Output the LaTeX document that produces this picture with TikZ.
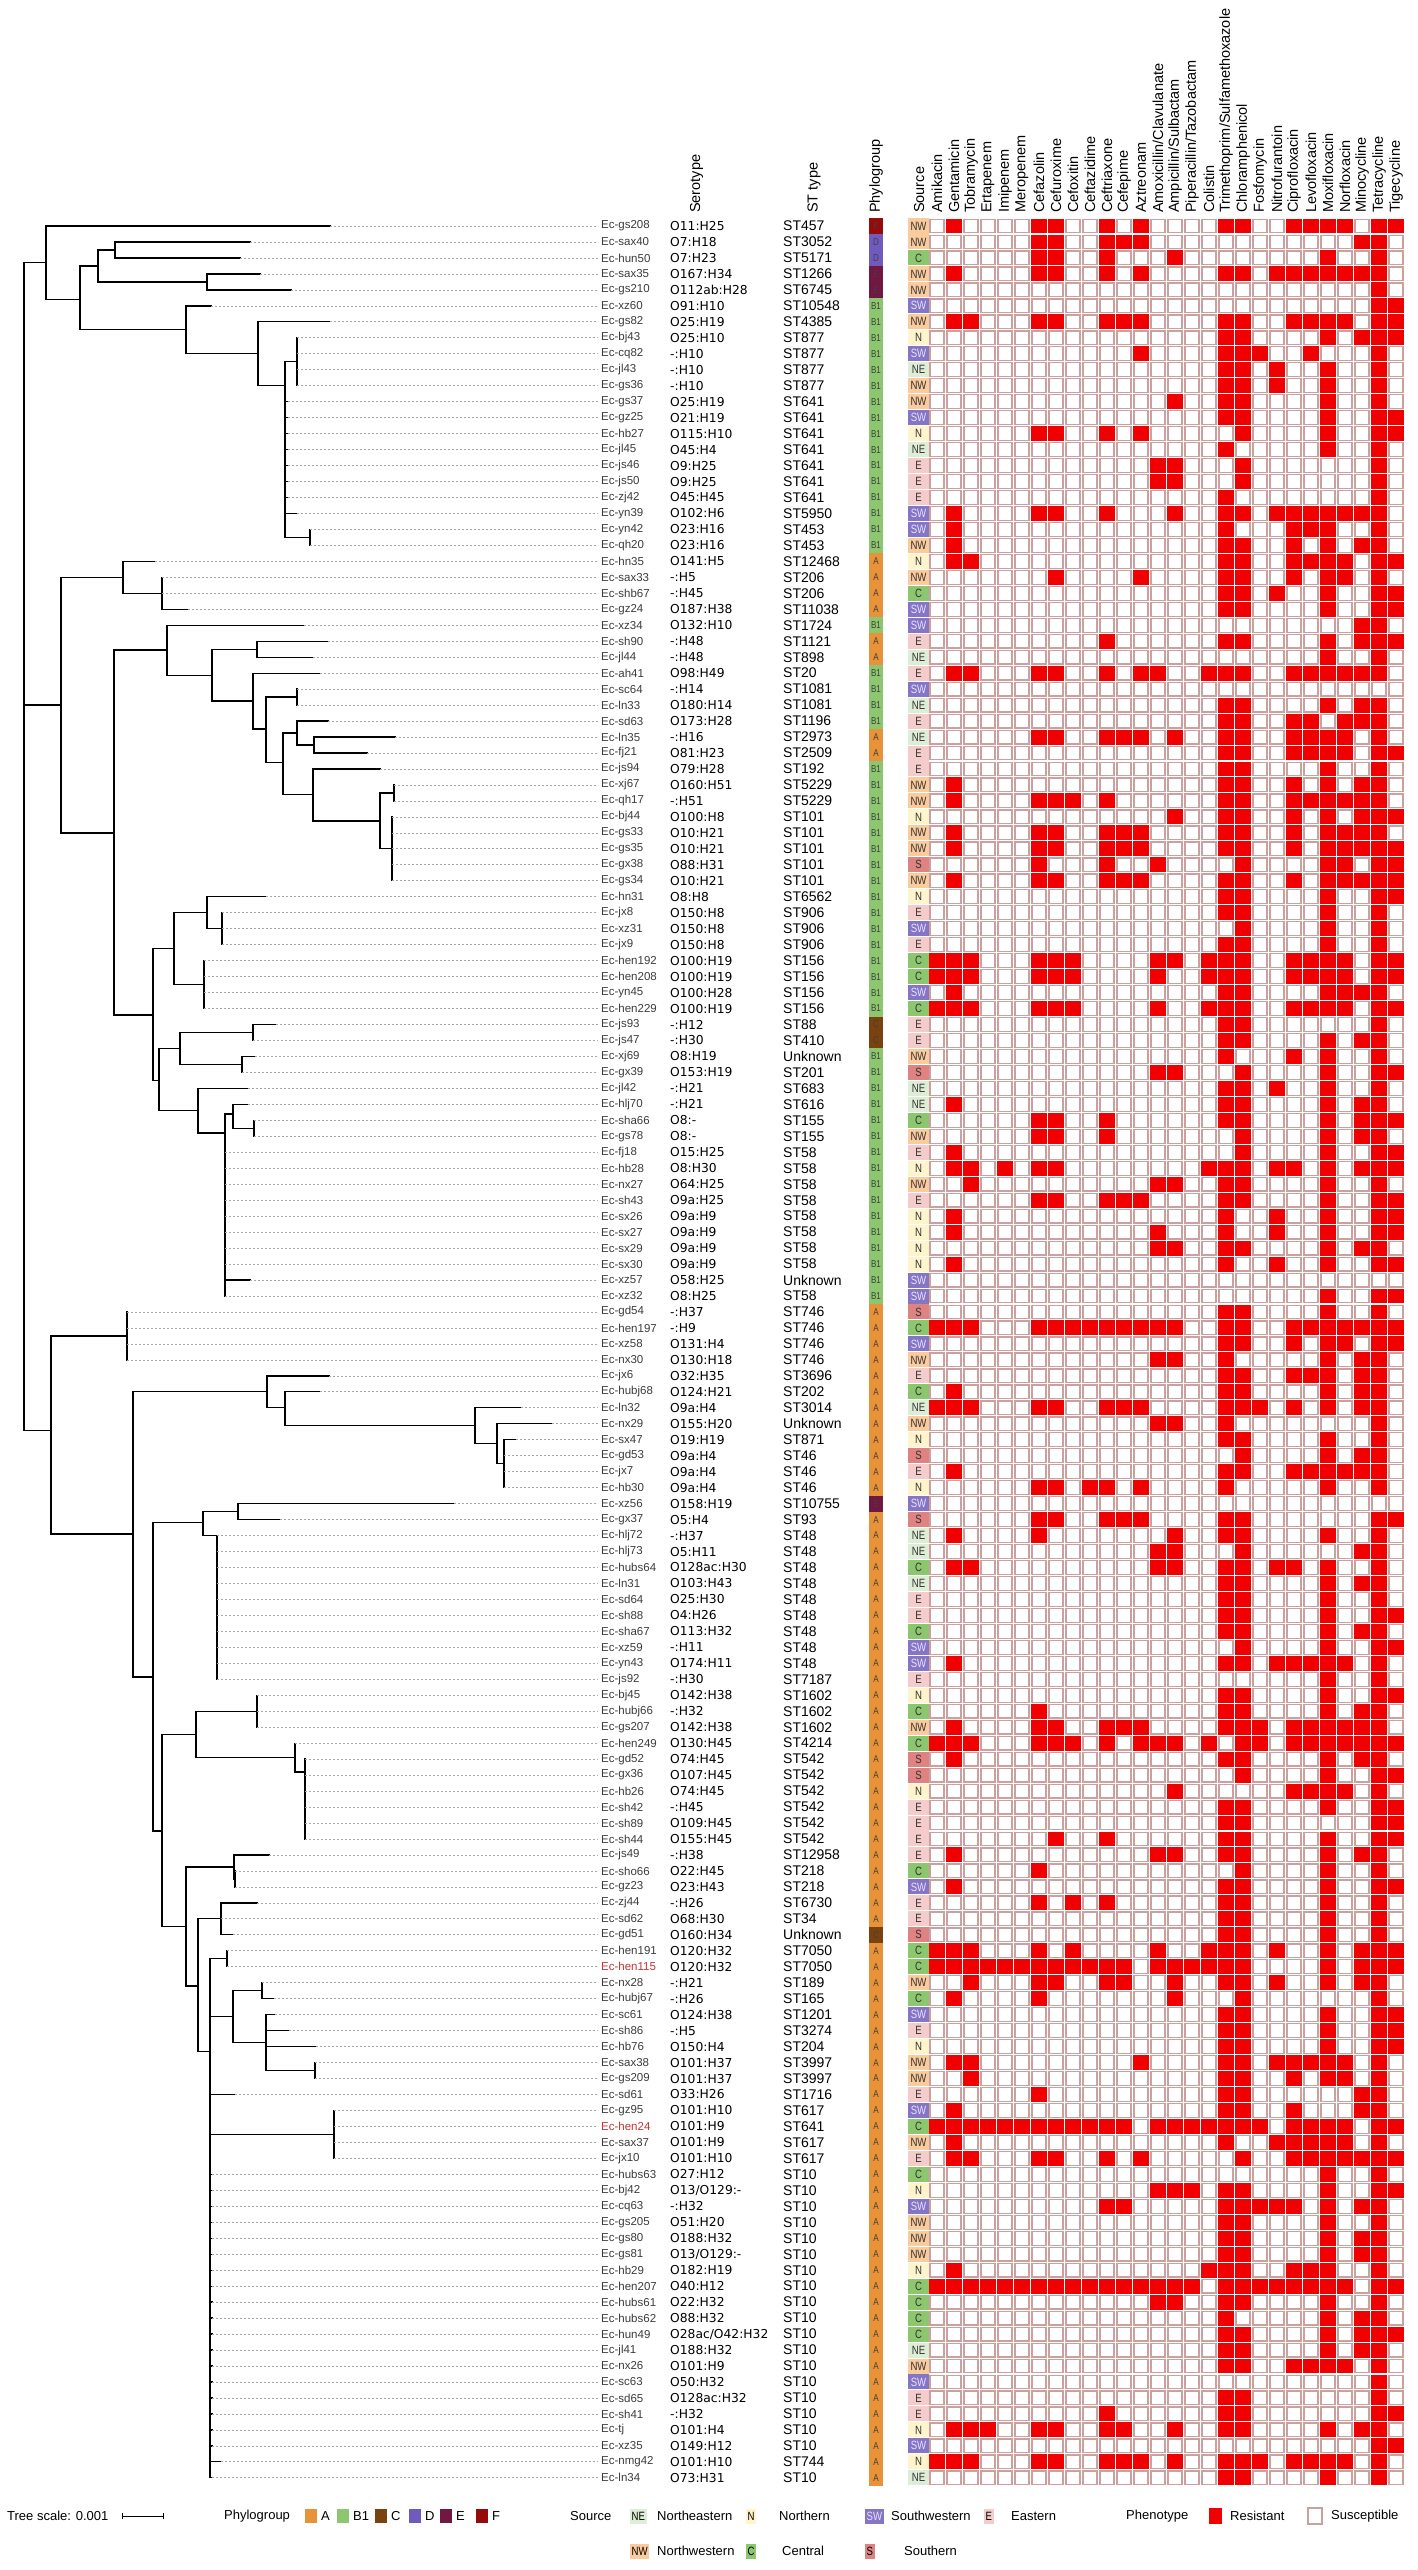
\documentclass[tikz,border=0pt]{standalone}
\usepackage{fontspec}
\setmainfont{Liberation Sans}
\newfontfamily\dejavu{DejaVu Sans}
\newfontfamily\narrowf[FakeStretch=0.8]{Liberation Sans}
\definecolor{pgA}{RGB}{232,146,58}
\definecolor{pgB1}{RGB}{140,198,110}
\definecolor{pgC}{RGB}{122,66,14}
\definecolor{pgD}{RGB}{112,90,190}
\definecolor{pgE}{RGB}{112,24,66}
\definecolor{pgF}{RGB}{150,10,10}
\definecolor{srcNE}{RGB}{222,238,214}
\definecolor{srcN}{RGB}{255,244,204}
\definecolor{srcSW}{RGB}{134,116,196}
\definecolor{srcE}{RGB}{244,204,204}
\definecolor{srcNW}{RGB}{250,203,156}
\definecolor{srcC}{RGB}{140,198,110}
\definecolor{srcS}{RGB}{222,130,130}
\definecolor{resred}{RGB}{240,0,0}
\definecolor{susedge}{RGB}{205,160,160}
\definecolor{leafgray}{RGB}{60,60,60}
\definecolor{hired}{RGB}{200,50,50}
\tikzset{
 tree/.style={line width=1.3pt, line cap=rect, draw=black},
 leader/.style={draw=black!35, line width=0.7pt, dash pattern=on 2pt off 2pt},
 leaflab/.style={anchor=west, inner sep=0pt, text=leafgray, font=\fontsize{11.5}{13}\selectfont},
 serolab/.style={anchor=west, inner sep=0pt, font=\dejavu\fontsize{12.3}{14}\selectfont},
 stlab/.style={anchor=west, inner sep=0pt, font=\fontsize{14}{16}\selectfont},
 pgtxt/.style={inner sep=0pt, text=black!75, font=\narrowf\fontsize{10}{11}\selectfont},
 srctxt/.style={inner sep=0pt, text=black!80, font=\narrowf\fontsize{12}{13}\selectfont},
 txtNE/.style={}, txtN/.style={}, txtE/.style={}, txtNW/.style={}, txtC/.style={}, txtS/.style={},
 txtSW/.style={text=white!90!blue},
 suscell/.style={fill=white, draw=susedge, line width=1.2pt},
 rescell/.style={fill=resred, draw=resred, line width=1.2pt},
 hdr/.style={rotate=90, anchor=west, inner sep=0pt, font=\fontsize{14.5}{16}\selectfont},
 lgd/.style={anchor=west, inner sep=0pt, font=\fontsize{13}{15}\selectfont},
 lgsw/.style={inner sep=1.5pt, minimum height=15pt, font=\narrowf\fontsize{12}{13}\selectfont, anchor=west},
}
% row, parent x, tip x, name, serotype, ST, phylogroup, source, resistant columns
\newcommand\leafrow[9]{%
  \coordinate (p#1) at (#2,#1);
  \coordinate (t#1) at (#3,#1);
  \draw[tree] (p#1) -- (t#1);
  \node[leaflab] (n#1) at (601,#1) {#4};
  \draw[leader] (t#1) -- ([xshift=-3pt]n#1.west);
  \node[serolab] (s#1) at (670,#1) {#5};
  \node[stlab] (st#1) at (783,#1) {#6};
  \fill[pg#7] (869,{#1-0.5}) rectangle (883,{#1+0.5});
  \node[pgtxt] (g#1) at (876,#1) {#7};
  \fill[src#8] (908,{#1-0.47}) rectangle (929,{#1+0.47});
  \node[srctxt,txt#8] (o#1) at (918.5,#1) {#8};
  \foreach \c in {1,...,28}{\draw[suscell] ({930+(\c-1)*17},{#1-0.43}) rectangle ({944+(\c-1)*17},{#1+0.43});}
  \foreach \c in {#9}{\draw[rescell] ({930+(\c-1)*17},{#1-0.43}) rectangle ({944+(\c-1)*17},{#1+0.43});}
}
\newcommand\trV[3]{\draw[tree] (#1,#2) -- (#1,#3);}
\newcommand\trH[3]{\draw[tree] (#1,#3) -- (#2,#3);}
\begin{document}
\begin{tikzpicture}[x=1pt,y=1pt]
\useasboundingbox (0,0) rectangle (1418,-2570);
\fill[white] (0,0) rectangle (1418,-2570);
% headers
\node[hdr] (hsero) at (696.5,-213) {Serotype};
\node[hdr] (hst) at (814,-213) {ST type};
\node[hdr] (hpg) at (876,-213) {Phylogroup};
\node[hdr] (hsrc) at (919,-213) {Source};
\foreach \t [count=\k] in {Amikacin,Gentamicin,Tobramycin,Ertapenem,Imipenem,Meropenem,Cefazolin,Cefuroxime,Cefoxitin,Ceftazidime,Ceftriaxone,Cefepime,Aztreonam,Amoxicillin/Clavulanate,Ampicillin/Sulbactam,Piperacillin/Tazobactam,Colistin,Trimethoprim/Sulfamethoxazole,Chloramphenicol,Fosfomycin,Nitrofurantoin,Ciprofloxacin,Levofloxacin,Moxifloxacin,Norfloxacin,Minocycline,Tetracycline,Tigecycline}
  {\node[hdr] (h\k) at ({937+(\k-1)*17},-213) {\t};}
\begin{scope}[y=-15.97pt, yshift=-210.03pt]
% ---- tree internal branches
\trV{24}{3.3}{76.4}
\trH{24}{46}{3.3}\trV{46}{1}{5.6}
\trH{46}{80}{5.6}\trV{80}{3.5}{7.5}
\trH{80}{98}{3.5}\trV{98}{2.5}{4.5}
\trH{98}{115}{2.5}\trV{115}{2}{3}
\trH{98}{207}{4.5}\trV{207}{4}{5}
\trH{80}{186}{7.5}\trV{186}{6}{9}
\trH{186}{258}{9}\trV{258}{7}{11}
\trH{258}{285}{11}\trV{285}{9.5}{20.5}
\trH{285}{297}{9.5}\trV{297}{8}{11}
\trH{285}{310}{20.5}\trV{310}{20}{21}
% middle clade
\trH{24}{61}{31}\trV{61}{23}{39}
\trH{61}{123}{23}\trV{123}{22}{24}
\trH{123}{162}{24}\trV{162}{23}{25}
\trH{61}{114}{39}\trV{114}{27.55}{50.4}
\trH{114}{167}{27.55}\trV{167}{26}{29.15}
\trH{167}{212}{29.15}\trV{212}{27.5}{30.75}
\trH{212}{257}{27.5}\trV{257}{27}{28}
\trH{212}{253}{30.75}\trV{253}{29}{32.5}
\trH{253}{266}{32.5}\trV{266}{30.5}{34.6}
\trH{266}{297}{30.5}\trV{297}{30}{31}
\trH{266}{283}{34.6}\trV{283}{32.75}{36.6}
\trH{283}{297}{32.75}\trV{297}{32}{33.5}
\trH{297}{314}{33.5}\trV{314}{33}{34}
\trH{283}{313}{36.6}\trV{313}{35}{38.25}
\trH{313}{380}{38.25}\trV{380}{36.5}{40}
\trH{380}{394}{36.5}\trV{394}{36}{37}
\trH{380}{392}{40}\trV{392}{38}{42}
\trH{114}{153}{50.4}\trV{153}{46.25}{54.5}
\trH{153}{174}{46.25}\trV{174}{44}{48.5}
\trH{174}{207}{44}\trV{207}{43}{45}
\trH{207}{222}{45}\trV{222}{44}{46}
\trH{174}{204}{48.5}\trV{204}{47}{50}
\trH{153}{159}{54.5}\trV{159}{52.5}{56.4}
\trH{159}{180}{52.5}\trV{180}{51.5}{53.5}
\trH{180}{253}{51.5}\trV{253}{51}{52}
\trH{180}{242}{53.5}\trV{242}{53}{54}
\trH{159}{198}{56.4}\trV{198}{55}{57.8}
\trH{198}{225}{57.8}\trV{225}{56.6}{68}
\trH{225}{233}{56.6}\trV{233}{56}{57.5}
\trH{233}{254}{57.5}\trV{254}{57}{58}
% lower clade
\trH{24}{51}{76.4}\trV{51}{70.5}{82.9}
\trH{51}{127}{70.5}\trV{127}{69}{72}
\trH{51}{133}{82.9}\trV{133}{74}{91.85}
\trH{133}{267}{74}\trV{267}{73}{75}
\trH{267}{285}{75}\trV{285}{74}{76.1}
\trH{285}{475}{76.1}\trV{475}{75}{77.25}
\trH{475}{497}{77.25}\trV{497}{76}{78.5}
\trH{497}{504}{78.5}\trV{504}{77}{80}
\trH{133}{153}{91.85}\trV{153}{82.2}{101.5}
\trH{153}{203}{82.2}\trV{203}{81.5}{83}
\trH{203}{238}{81.5}\trV{238}{81}{82}
\trH{203}{217}{83}\trV{217}{83}{92}
\trH{153}{162}{101.5}\trV{162}{95.45}{107.5}
\trH{162}{196}{95.45}\trV{196}{94}{96.9}
\trH{196}{257}{94}\trV{257}{93}{95}
\trH{196}{295}{96.9}\trV{295}{96}{97.8}
\trH{295}{305}{97.8}\trV{305}{97}{102}
\trH{162}{186}{107.5}\trV{186}{103.75}{111.2}
\trH{186}{234}{103.75}\trV{234}{103}{104.5}
\trH{234}{235}{104.5}\trV{235}{104}{105}
\trH{186}{198}{111.2}\trV{198}{107}{115.3}
\trH{198}{221}{107}\trV{221}{106}{108}
\trH{198}{210}{115.3}\trV{210}{109.5}{142}
\trH{210}{227}{109.5}\trV{227}{109}{110}
\trH{210}{233}{113.1}\trV{233}{111.5}{114.75}
\trH{233}{262}{111.5}\trV{262}{111}{112}
\trH{233}{266}{114.75}\trV{266}{113}{116.5}
\trH{266}{315}{116.5}\trV{315}{116}{117}
\trH{210}{334}{120.5}\trV{334}{119}{122}
% ---- leaves
\leafrow{1}{46}{330}{Ec-gs208}{O11:H25}{ST457}{F}{NW}{2,7,8,11,13,18,19,22,23,24,25,27,28}
\leafrow{2}{115}{250}{Ec-sax40}{O7:H18}{ST3052}{D}{NW}{7,8,11,12,13,26,27}
\leafrow{3}{115}{240}{Ec-hun50}{O7:H23}{ST5171}{D}{C}{7,8,11,15,24,27}
\leafrow{4}{207}{260}{Ec-sax35}{O167:H34}{ST1266}{E}{NW}{2,7,8,11,13,18,19,21,22,23,24,25,26,27}
\leafrow{5}{207}{291}{Ec-gs210}{O112ab:H28}{ST6745}{E}{NW}{27}
\leafrow{6}{186}{211}{Ec-xz60}{O91:H10}{ST10548}{B1}{SW}{27,28}
\leafrow{7}{258}{330}{Ec-gs82}{O25:H19}{ST4385}{B1}{NW}{2,3,7,8,11,12,13,18,19,22,23,24,25,27,28}
\leafrow{8}{297}{297}{Ec-bj43}{O25:H10}{ST877}{B1}{N}{18,19,24,26,27,28}
\leafrow{9}{297}{297}{Ec-cq82}{-:H10}{ST877}{B1}{SW}{13,18,19,20,23,27}
\leafrow{10}{297}{297}{Ec-jl43}{-:H10}{ST877}{B1}{NE}{18,19,21,24,27}
\leafrow{11}{297}{297}{Ec-gs36}{-:H10}{ST877}{B1}{NW}{18,19,21,24,27}
\leafrow{12}{285}{288}{Ec-gs37}{O25:H19}{ST641}{B1}{NW}{15,18,19,24,27}
\leafrow{13}{285}{288}{Ec-gz25}{O21:H19}{ST641}{B1}{SW}{18,19,24,27,28}
\leafrow{14}{285}{288}{Ec-hb27}{O115:H10}{ST641}{B1}{N}{7,8,11,13,19,24,27,28}
\leafrow{15}{285}{288}{Ec-jl45}{O45:H4}{ST641}{B1}{NE}{18,24,27}
\leafrow{16}{285}{288}{Ec-js46}{O9:H25}{ST641}{B1}{E}{14,15,19,27}
\leafrow{17}{285}{288}{Ec-js50}{O9:H25}{ST641}{B1}{E}{14,15,19,27}
\leafrow{18}{285}{288}{Ec-zj42}{O45:H45}{ST641}{B1}{E}{18,27}
\leafrow{19}{285}{297}{Ec-yn39}{O102:H6}{ST5950}{B1}{SW}{2,7,8,11,15,18,19,21,22,23,24,25,26,27}
\leafrow{20}{310}{310}{Ec-yn42}{O23:H16}{ST453}{B1}{SW}{2,18,22,23,24,27}
\leafrow{21}{310}{310}{Ec-qh20}{O23:H16}{ST453}{B1}{NW}{2,18,19,22,24,26,27}
\leafrow{22}{123}{155}{Ec-hn35}{O141:H5}{ST12468}{A}{N}{2,3,18,19,22,23,24,25,27,28}
\leafrow{23}{162}{162}{Ec-sax33}{-:H5}{ST206}{A}{NW}{8,13,18,19,22,24,25,27}
\leafrow{24}{162}{162}{Ec-shb67}{-:H45}{ST206}{A}{C}{18,19,21,24,27,28}
\leafrow{25}{162}{188}{Ec-gz24}{O187:H38}{ST11038}{A}{SW}{18,19,24,27,28}
\leafrow{26}{167}{304}{Ec-xz34}{O132:H10}{ST1724}{B1}{SW}{26,27}
\leafrow{27}{257}{328}{Ec-sh90}{-:H48}{ST1121}{A}{E}{11,18,19,24,26,27,28}
\leafrow{28}{257}{313}{Ec-jl44}{-:H48}{ST898}{A}{NE}{24,27}
\leafrow{29}{253}{320}{Ec-ah41}{O98:H49}{ST20}{B1}{E}{2,3,7,8,11,13,14,17,18,19,22,23,24,25,26,27}
\leafrow{30}{297}{297}{Ec-sc64}{-:H14}{ST1081}{B1}{SW}{}
\leafrow{31}{297}{297}{Ec-ln33}{O180:H14}{ST1081}{B1}{NE}{18,19,24,26,27}
\leafrow{32}{297}{328}{Ec-sd63}{O173:H28}{ST1196}{B1}{E}{18,19,22,23,25,26,27}
\leafrow{33}{314}{395}{Ec-ln35}{-:H16}{ST2973}{A}{NE}{7,8,11,12,13,15,18,19,22,23,24,25,27}
\leafrow{34}{314}{367}{Ec-fj21}{O81:H23}{ST2509}{A}{E}{18,19,22,23,24,25,27,28}
\leafrow{35}{313}{380}{Ec-js94}{O79:H28}{ST192}{B1}{E}{18,19,24,27}
\leafrow{36}{394}{394}{Ec-xj67}{O160:H51}{ST5229}{B1}{NW}{2,18,19,22,24,26,27}
\leafrow{37}{394}{394}{Ec-qh17}{-:H51}{ST5229}{B1}{NW}{2,7,8,9,11,18,19,22,23,24,25,26,27}
\leafrow{38}{392}{392}{Ec-bj44}{O100:H8}{ST101}{B1}{N}{15,18,19,22,24,26,27,28}
\leafrow{39}{392}{392}{Ec-gs33}{O10:H21}{ST101}{B1}{NW}{2,7,8,11,12,13,18,19,22,24,25,26,27}
\leafrow{40}{392}{392}{Ec-gs35}{O10:H21}{ST101}{B1}{NW}{2,7,8,11,12,13,18,19,22,24,25,26,27,28}
\leafrow{41}{392}{392}{Ec-gx38}{O88:H31}{ST101}{B1}{S}{7,11,14,19,24,25,27,28}
\leafrow{42}{392}{392}{Ec-gs34}{O10:H21}{ST101}{B1}{NW}{2,7,8,11,12,13,18,19,22,24,25,26,27,28}
\leafrow{43}{207}{266}{Ec-hn31}{O8:H8}{ST6562}{B1}{N}{18,19,24,27,28}
\leafrow{44}{222}{222}{Ec-jx8}{O150:H8}{ST906}{B1}{E}{18,19,24,27}
\leafrow{45}{222}{222}{Ec-xz31}{O150:H8}{ST906}{B1}{SW}{19,24,27}
\leafrow{46}{222}{222}{Ec-jx9}{O150:H8}{ST906}{B1}{E}{18,19,24,27}
\leafrow{47}{204}{204}{Ec-hen192}{O100:H19}{ST156}{B1}{C}{1,2,3,7,8,9,14,15,17,18,19,22,23,24,25,27,28}
\leafrow{48}{204}{204}{Ec-hen208}{O100:H19}{ST156}{B1}{C}{1,2,3,7,8,9,14,17,18,19,22,23,24,25,27,28}
\leafrow{49}{204}{204}{Ec-yn45}{O100:H28}{ST156}{B1}{SW}{2,18,19,24,25,26,27}
\leafrow{50}{204}{204}{Ec-hen229}{O100:H19}{ST156}{B1}{C}{1,2,3,7,8,9,14,17,18,19,22,23,24,25,27,28}
\leafrow{51}{253}{276}{Ec-js93}{-:H12}{ST88}{C}{E}{18,19,27}
\leafrow{52}{253}{253}{Ec-js47}{-:H30}{ST410}{C}{E}{18,19,24,26,27}
\leafrow{53}{242}{255}{Ec-xj69}{O8:H19}{Unknown}{B1}{NW}{18,22,24,27}
\leafrow{54}{242}{242}{Ec-gx39}{O153:H19}{ST201}{B1}{S}{14,15,19,24,27,28}
\leafrow{55}{198}{248}{Ec-jl42}{-:H21}{ST683}{B1}{NE}{18,19,21,24,27}
\leafrow{56}{233}{248}{Ec-hlj70}{-:H21}{ST616}{B1}{NE}{2,18,19,24,26,27}
\leafrow{57}{254}{254}{Ec-sha66}{O8:-}{ST155}{B1}{C}{7,8,11,18,19,24,26,27,28}
\leafrow{58}{254}{254}{Ec-gs78}{O8:-}{ST155}{B1}{NW}{7,8,11,19,24,26,27}
\leafrow{59}{225}{225}{Ec-fj18}{O15:H25}{ST58}{B1}{E}{2,19,24,27,28}
\leafrow{60}{225}{225}{Ec-hb28}{O8:H30}{ST58}{B1}{N}{2,3,5,7,8,17,18,19,21,22,24,26,27,28}
\leafrow{61}{225}{225}{Ec-nx27}{O64:H25}{ST58}{B1}{NW}{3,14,15,18,19,24,27}
\leafrow{62}{225}{225}{Ec-sh43}{O9a:H25}{ST58}{B1}{E}{7,8,11,12,13,18,19,24,27,28}
\leafrow{63}{225}{225}{Ec-sx26}{O9a:H9}{ST58}{B1}{N}{2,18,21,24,27,28}
\leafrow{64}{225}{225}{Ec-sx27}{O9a:H9}{ST58}{B1}{N}{2,14,18,21,24,27,28}
\leafrow{65}{225}{225}{Ec-sx29}{O9a:H9}{ST58}{B1}{N}{14,15,18,19,24,26,27}
\leafrow{66}{225}{225}{Ec-sx30}{O9a:H9}{ST58}{B1}{N}{2,18,21,24,27,28}
\leafrow{67}{225}{250}{Ec-xz57}{O58:H25}{Unknown}{B1}{SW}{}
\leafrow{68}{225}{225}{Ec-xz32}{O8:H25}{ST58}{B1}{SW}{24,27,28}
\leafrow{69}{127}{127}{Ec-gd54}{-:H37}{ST746}{A}{S}{18,19,24,27}
\leafrow{70}{127}{127}{Ec-hen197}{-:H9}{ST746}{A}{C}{1,2,3,7,8,9,10,11,12,13,14,15,18,19,22,23,24,25,26,27,28}
\leafrow{71}{127}{127}{Ec-xz58}{O131:H4}{ST746}{A}{SW}{18,19,22,24,25,27,28}
\leafrow{72}{127}{127}{Ec-nx30}{O130:H18}{ST746}{A}{NW}{14,15,18,24,26,27}
\leafrow{73}{267}{329}{Ec-jx6}{O32:H35}{ST3696}{A}{E}{18,19,22,23,24,26,27}
\leafrow{74}{285}{320}{Ec-hubj68}{O124:H21}{ST202}{A}{C}{2,18,19,24,26,27}
\leafrow{75}{475}{521}{Ec-ln32}{O9a:H4}{ST3014}{A}{NE}{1,2,3,7,8,11,12,13,18,19,20,22,24,26,27}
\leafrow{76}{497}{552}{Ec-nx29}{O155:H20}{Unknown}{A}{NW}{14,15,18,27}
\leafrow{77}{504}{516}{Ec-sx47}{O19:H19}{ST871}{A}{N}{18,19,24,27}
\leafrow{78}{504}{504}{Ec-gd53}{O9a:H4}{ST46}{A}{S}{19,24,26,27}
\leafrow{79}{504}{504}{Ec-jx7}{O9a:H4}{ST46}{A}{E}{2,18,19,22,23,24,25,26,27}
\leafrow{80}{504}{504}{Ec-hb30}{O9a:H4}{ST46}{A}{N}{7,8,10,11,13,18,24,27}
\leafrow{81}{238}{454}{Ec-xz56}{O158:H19}{ST10755}{E}{SW}{}
\leafrow{82}{238}{280}{Ec-gx37}{O5:H4}{ST93}{A}{S}{7,8,11,12,13,18,19,27,28}
\leafrow{83}{217}{217}{Ec-hlj72}{-:H37}{ST48}{A}{NE}{2,7,15,18,19,24,27}
\leafrow{84}{217}{217}{Ec-hlj73}{O5:H11}{ST48}{A}{NE}{14,15,19,26,27}
\leafrow{85}{217}{217}{Ec-hubs64}{O128ac:H30}{ST48}{A}{C}{2,3,14,15,18,19,21,22,24,27}
\leafrow{86}{217}{217}{Ec-ln31}{O103:H43}{ST48}{A}{NE}{18,19,24,26,27}
\leafrow{87}{217}{217}{Ec-sd64}{O25:H30}{ST48}{A}{E}{18,19,24,27}
\leafrow{88}{217}{217}{Ec-sh88}{O4:H26}{ST48}{A}{E}{18,19,24,27,28}
\leafrow{89}{217}{217}{Ec-sha67}{O113:H32}{ST48}{A}{C}{18,19,24,26,27}
\leafrow{90}{217}{217}{Ec-xz59}{-:H11}{ST48}{A}{SW}{19,24,27,28}
\leafrow{91}{217}{217}{Ec-yn43}{O174:H11}{ST48}{A}{SW}{2,18,19,21,22,23,24,25,27}
\leafrow{92}{217}{217}{Ec-js92}{-:H30}{ST7187}{A}{E}{24,27}
\leafrow{93}{257}{257}{Ec-bj45}{O142:H38}{ST1602}{A}{N}{18,19,24,27,28}
\leafrow{94}{257}{257}{Ec-hubj66}{-:H32}{ST1602}{A}{C}{7,18,19,24,26,27}
\leafrow{95}{257}{257}{Ec-gs207}{O142:H38}{ST1602}{A}{NW}{2,7,8,11,12,13,18,19,20,22,23,24,25,26,27}
\leafrow{96}{295}{295}{Ec-hen249}{O130:H45}{ST4214}{A}{C}{1,2,3,7,8,9,11,13,14,15,17,19,20,22,23,24,25,26,27,28}
\leafrow{97}{305}{305}{Ec-gd52}{O74:H45}{ST542}{A}{S}{2,18,19,24,26,27}
\leafrow{98}{305}{305}{Ec-gx36}{O107:H45}{ST542}{A}{S}{19,24,27,28}
\leafrow{99}{305}{305}{Ec-hb26}{O74:H45}{ST542}{A}{N}{15,22,23,24,25,27}
\leafrow{100}{305}{305}{Ec-sh42}{-:H45}{ST542}{A}{E}{18,19,24,27,28}
\leafrow{101}{305}{305}{Ec-sh89}{O109:H45}{ST542}{A}{E}{18,19,27,28}
\leafrow{102}{305}{305}{Ec-sh44}{O155:H45}{ST542}{A}{E}{8,11,18,19,24,27,28}
\leafrow{103}{234}{269}{Ec-js49}{-:H38}{ST12958}{A}{E}{2,14,15,18,19,24,26,27}
\leafrow{104}{235}{235}{Ec-sho66}{O22:H45}{ST218}{A}{C}{7,19,24,27}
\leafrow{105}{235}{235}{Ec-gz23}{O23:H43}{ST218}{A}{SW}{2,18,19,24,27,28}
\leafrow{106}{221}{257}{Ec-zj44}{-:H26}{ST6730}{A}{E}{7,9,11,18,19,24,27}
\leafrow{107}{221}{221}{Ec-sd62}{O68:H30}{ST34}{A}{E}{18,19,24,27}
\leafrow{108}{221}{233}{Ec-gd51}{O160:H34}{Unknown}{C}{S}{18,19,24,27}
\leafrow{109}{227}{227}{Ec-hen191}{O120:H32}{ST7050}{A}{C}{1,2,3,7,9,14,17,18,19,21,24,26,27,28}
\leafrow{110}{227}{227}{\color{hired}Ec-hen115}{O120:H32}{ST7050}{A}{C}{1,2,3,4,5,6,7,8,9,10,11,12,14,15,16,17,18,19,24,26,27,28}
\leafrow{111}{262}{262}{Ec-nx28}{-:H21}{ST189}{A}{NW}{3,7,8,11,12,15,18,19,21,24,26,27}
\leafrow{112}{262}{274}{Ec-hubj67}{-:H26}{ST165}{A}{C}{2,7,15,19,27}
\leafrow{113}{266}{275}{Ec-sc61}{O124:H38}{ST1201}{A}{SW}{18,19,24,27,28}
\leafrow{114}{266}{289}{Ec-sh86}{-:H5}{ST3274}{A}{E}{18,19,24,27,28}
\leafrow{115}{266}{316}{Ec-hb76}{O150:H4}{ST204}{A}{N}{18,19,24,27,28}
\leafrow{116}{315}{315}{Ec-sax38}{O101:H37}{ST3997}{A}{NW}{2,3,13,18,19,21,22,23,24,25,27}
\leafrow{117}{315}{315}{Ec-gs209}{O101:H37}{ST3997}{A}{NW}{3,18,19,22,24,25,27}
\leafrow{118}{210}{235}{Ec-sd61}{O33:H26}{ST1716}{A}{E}{7,18,19,26,27}
\leafrow{119}{334}{334}{Ec-gz95}{O101:H10}{ST617}{A}{SW}{2,18,19,22,26,27}
\leafrow{120}{334}{334}{\color{hired}Ec-hen24}{O101:H9}{ST641}{A}{C}{1,2,3,4,5,6,7,8,9,10,11,12,14,15,16,17,18,19,20,22,23,24,25,27,28}
\leafrow{121}{334}{334}{Ec-sax37}{O101:H9}{ST617}{A}{NW}{2,18,21,22,23,24,25,27}
\leafrow{122}{334}{334}{Ec-jx10}{O101:H10}{ST617}{A}{E}{2,3,7,8,11,13,19,22,23,24,25,26,27,28}
\leafrow{123}{210}{212}{Ec-hubs63}{O27:H12}{ST10}{A}{C}{24,27}
\leafrow{124}{210}{212}{Ec-bj42}{O13/O129:-}{ST10}{A}{N}{14,15,16,18,19,24,27,28}
\leafrow{125}{210}{212}{Ec-cq63}{-:H32}{ST10}{A}{SW}{11,12,18,19,20,21,22,24,26,27}
\leafrow{126}{210}{212}{Ec-gs205}{O51:H20}{ST10}{A}{NW}{18,19,24,27}
\leafrow{127}{210}{212}{Ec-gs80}{O188:H32}{ST10}{A}{NW}{18,19,24,26,27}
\leafrow{128}{210}{212}{Ec-gs81}{O13/O129:-}{ST10}{A}{NW}{18,19,24,26,27}
\leafrow{129}{210}{212}{Ec-hb29}{O182:H19}{ST10}{A}{N}{2,17,18,19,22,23,24,27}
\leafrow{130}{210}{212}{Ec-hen207}{O40:H12}{ST10}{A}{C}{1,2,3,4,5,6,7,8,9,10,11,12,13,14,15,16,18,19,20,21,22,23,24,25,27,28}
\leafrow{131}{210}{212}{Ec-hubs61}{O22:H32}{ST10}{A}{C}{14,15,18,19,24,27}
\leafrow{132}{210}{212}{Ec-hubs62}{O88:H32}{ST10}{A}{C}{18,24,26,27}
\leafrow{133}{210}{212}{Ec-hun49}{O28ac/O42:H32}{ST10}{A}{C}{18,19,24,26,27,28}
\leafrow{134}{210}{212}{Ec-jl41}{O188:H32}{ST10}{A}{NE}{18,19,24,26,27}
\leafrow{135}{210}{212}{Ec-nx26}{O101:H9}{ST10}{A}{NW}{18,19,22,23,24,25,27}
\leafrow{136}{210}{212}{Ec-sc63}{O50:H32}{ST10}{A}{SW}{27}
\leafrow{137}{210}{212}{Ec-sd65}{O128ac:H32}{ST10}{A}{E}{18,19,27}
\leafrow{138}{210}{212}{Ec-sh41}{-:H32}{ST10}{A}{E}{11,18,19,27,28}
\leafrow{139}{210}{212}{Ec-tj}{O101:H4}{ST10}{A}{N}{2,3,4,7,8,11,12,15,18,19,24,26,27}
\leafrow{140}{210}{212}{Ec-xz35}{O149:H12}{ST10}{A}{SW}{27,28}
\leafrow{141}{210}{221}{Ec-nmg42}{O101:H10}{ST744}{A}{N}{1,2,3,7,8,11,12,13,15,18,19,20,22,23,24,25,27}
\leafrow{142}{210}{212}{Ec-ln34}{O73:H31}{ST10}{A}{NE}{18,19,24,27}
\end{scope}
% ---- legend
\node[lgd] (lts) at (7,-2516) {Tree scale: 0.001};
\coordinate (sb1) at (122,-2516);
\coordinate (sb2) at (163,-2516);
\draw[line width=0.8pt] (sb1) -- (sb2);
\draw[line width=0.8pt] ([yshift=-3pt]sb1) -- ([yshift=3pt]sb1);
\draw[line width=0.8pt] ([yshift=-3pt]sb2) -- ([yshift=3pt]sb2);
\node[lgd] (lpg) at (224,-2516) {Phylogroup};
\foreach \g/\x in {A/305,B1/337,C/375,D/409,E/440,F/476}{
  \fill[pg\g] (\x,-2509) rectangle ({\x+12},-2523);
  \node[lgd] (lg\g) at ({\x+16},-2516) {\g};
}
\node[lgd] (lsrc) at (570,-2516) {Source};
\foreach \s/\x/\y/\t/\tx in {NE/630/-2516/Northeastern/657,N/746/-2516/Northern/779,SW/865/-2516/Southwestern/891,E/984/-2516/Eastern/1011,NW/630/-2551/Northwestern/657,C/746/-2551/Central/782,S/865/-2551/Southern/904}{
  \node[lgsw,fill=src\s,txt\s] (ls\s) at (\x,\y) {\s};
  \node[lgd] (lt\s) at (\tx,\y) {\t};
}
\node[lgd] (lph) at (1126,-2516) {Phenotype};
\fill[resred] (1209,-2508) rectangle (1222,-2524);
\node[lgd] (lres) at (1230,-2516) {Resistant};
\draw[suscell] (1308,-2508) rectangle (1322,-2524);
\node[lgd] (lsus) at (1331,-2516) {Susceptible};
\end{tikzpicture}
\end{document}
